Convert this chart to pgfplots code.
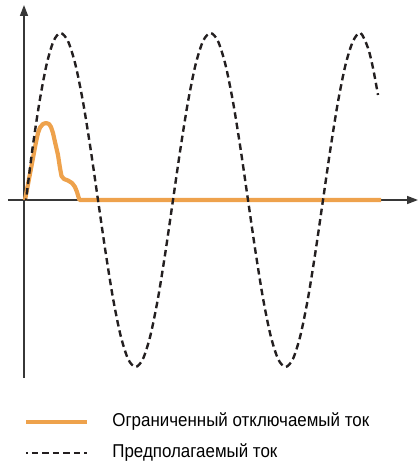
\documentclass[border=0pt]{standalone}
\usepackage{fontspec}
\setmainfont[FakeStretch=0.91]{Liberation Sans}
\usepackage{pgfplots}
\pgfplotsset{compat=1.18}
\usetikzlibrary{arrows.meta}

\definecolor{limorange}{RGB}{238,162,76}
\definecolor{curvegray}{RGB}{35,31,32}
\definecolor{axisgray}{RGB}{55,55,55}

\begin{document}
\begin{tikzpicture}
\begin{axis}[
    x=1pt, y=1pt,
    xmin=-16, xmax=394,
    ymin=-178, ymax=195,
    enlargelimits=false,
    axis lines=middle,
    axis line style={axisgray, line width=1.6pt, -{Triangle[length=11pt,width=8pt]}},
    xtick=\empty, ytick=\empty,
    clip=false,
    legend cell align=left,
    legend style={
        at={(0.039,-0.094)}, anchor=north west,
        draw=none, fill=none, inner sep=0pt,
        font=\fontsize{18.6}{20}\selectfont,
        row sep=14pt, column sep=23pt,
        nodes={inner sep=0pt, text height=13pt, text depth=4pt},
    },
    legend image code/.code={\draw[#1] (0pt,0pt) -- (61pt,0pt);},
]
% limited (cut-off) current
\addplot[limorange, line width=4.2pt, line join=round] coordinates {
    (1,0) (5,21) (9,42) (12,58) (14,67) (16,72.5) (19,76) (22,77)
    (25,76) (27,73) (29,67) (31,58) (34,45) (36,32) (37.5,24)
    (40,21) (44,19.5) (48,17) (51,13) (53,8) (54.5,3) (55.5,0) (357,0)
};
\addlegendentry{Ограниченный отключаемый ток}
% prospective current
\addplot[curvegray, line width=2.4pt, dash pattern=on 6.5pt off 4pt, dash phase=5pt, smooth] coordinates {
    (2,0) (8.5,51.6) (15.5,98.2) (22.5,135.1) (29.5,158.8) (36.5,167)
    (44,158.8) (51.5,135.1) (59,98.2) (66.5,51.6) (74,0)
    (81.5,-51.6) (89,-98.2) (96.5,-135.1) (104,-158.8) (111.5,-167)
    (119,-158.8) (126.5,-135.1) (134,-98.2) (141.5,-51.6) (149,0)
    (156.5,51.6) (164,98.2) (171.5,135.1) (179,158.8) (186.5,167)
    (194,158.8) (201.5,135.1) (209,98.2) (216.5,51.6) (224,0)
    (231.5,-51.6) (239,-98.2) (246.5,-135.1) (254,-158.8) (261.5,-167)
    (269,-158.8) (276.5,-135.1) (284,-98.2) (291.5,-51.6) (299,0)
    (306.5,51.6) (314,98.2) (321.5,135.1) (329,158.8) (336.5,167)
    (344,152) (349,132) (354,105)
};
\addlegendentry{Предполагаемый ток}
\path (axis cs:-24,200) rectangle (axis cs:396,-266);
\end{axis}
\end{tikzpicture}
\end{document}
